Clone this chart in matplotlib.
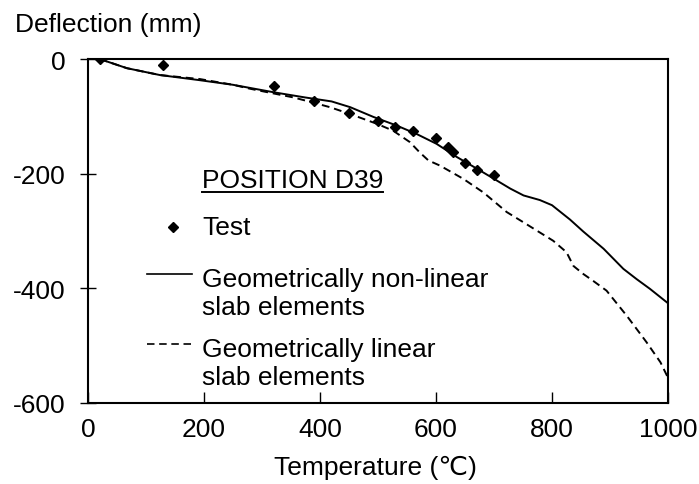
import matplotlib
matplotlib.use("Agg")
import matplotlib.pyplot as plt

plt.rcParams['font.family'] = ['Liberation Sans', 'DejaVu Sans']
plt.rcParams['axes.unicode_minus'] = False
fs = 19

# test measurements
test_temp = [20, 130, 320, 390, 450, 500, 530, 560, 600, 620, 630, 650, 670, 700]
test_defl = [0, -11, -47, -74, -94, -109, -118, -126, -138, -154, -163, -181, -193, -202]

# geometrically non-linear slab elements
nl_temp = [20, 67, 124, 193, 250, 320, 374, 420, 452, 492, 532, 567, 601, 636, 670,
           700, 728, 751, 779, 800, 831, 854, 889, 923, 946, 969, 1000]
nl_defl = [0, -16, -28, -37, -45, -58, -67, -74, -84, -101, -116, -131, -148, -171, -191,
           -209, -226, -238, -246, -255, -280, -301, -331, -366, -384, -401, -426]

# geometrically linear slab elements
lin_temp = [20, 67, 124, 193, 250, 280, 354, 388, 417, 452, 498, 526, 555, 572, 587, 607,
            647, 682, 722, 751, 802, 825, 837, 854, 871, 894, 929, 963, 987, 1000]
lin_defl = [0, -16, -28, -35, -45, -52, -67, -76, -84, -96, -113, -125, -145, -163, -177, -186,
            -209, -233, -267, -285, -317, -337, -361, -375, -387, -404, -448, -494, -529, -556]

fig = plt.figure(figsize=(6.99, 4.85), dpi=100)
ax = fig.add_axes([88/699, 81/485, 580/699, 344/485])

ax.plot(nl_temp, nl_defl, color='black', lw=1.4)
ax.plot(lin_temp, lin_defl, color='black', lw=1.4, dashes=(4, 2.5))
ax.plot(test_temp, test_defl, 'D', color='black', ms=5.5, ls='none')

ax.set_xlim(0, 1000)
ax.set_ylim(-600, 0)
ax.set_xticks([0, 200, 400, 600, 800, 1000])
ax.set_yticks([-600, -400, -200, 0])
ax.tick_params(axis='x', direction='in', length=8, width=1, pad=10, labelsize=fs)
ax.tick_params(axis='y', direction='inout', length=12, width=1, pad=10, labelsize=fs)
for s in ax.spines.values():
    s.set_linewidth(1.5)

fig.text(15/699, 1 - 31.7/485, 'Deflection (mm)', fontsize=fs, va='baseline', ha='left')
fig.text(375/699, 1 - 475/485, 'Temperature (\u2103)', fontsize=fs, va='baseline', ha='center')

# hand-made legend
tr = ax.transAxes
t = ax.text(0.1966, 0.628, 'POSITION D39', fontsize=fs, transform=tr, va='baseline')
fig.canvas.draw()
bb = t.get_window_extent().transformed(ax.transAxes.inverted())
ax.plot([0.1966, bb.x1], [0.613, 0.613], color='black', lw=1.4, transform=tr, clip_on=False)

ax.plot([0.1466], [0.5116], 'D', color='black', ms=5, transform=tr)
ax.text(0.1966, 0.491, 'Test', fontsize=fs, transform=tr, va='baseline')

ax.plot([0.1017, 0.1793], [0.375, 0.375], color='black', lw=1.2, transform=tr)
ax.text(0.1966, 0.340, 'Geometrically non-linear', fontsize=fs, transform=tr, va='baseline')
ax.text(0.1966, 0.259, 'slab elements', fontsize=fs, transform=tr, va='baseline')

ax.plot([0.1017, 0.1793], [0.1715, 0.1715], color='black', lw=1.2, dashes=(4.5, 2.8), transform=tr)
ax.text(0.1966, 0.1366, 'Geometrically linear', fontsize=fs, transform=tr, va='baseline')
ax.text(0.1966, 0.0552, 'slab elements', fontsize=fs, transform=tr, va='baseline')

plt.savefig('out.png', dpi=100)
